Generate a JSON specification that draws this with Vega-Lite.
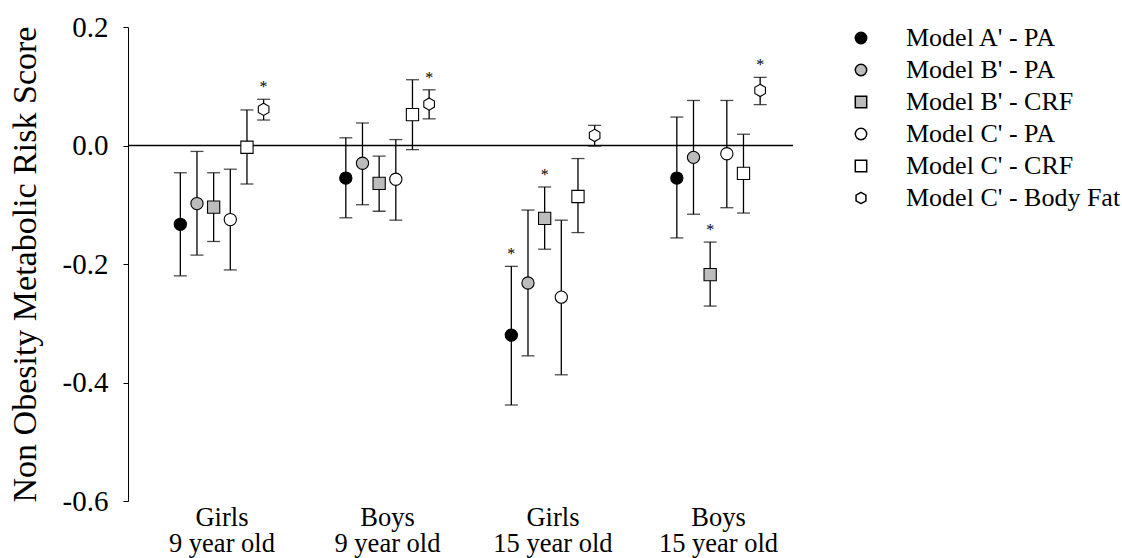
{
  "$schema": "https://vega.github.io/schema/vega-lite/v6.json",
  "width": 665,
  "height": 474,
  "autosize": "none",
  "padding": {"left": 128, "top": 27, "right": 329, "bottom": 57},
  "background": "white",
  "config": {
    "view": {"stroke": null},
    "font": "Liberation Serif",
    "axis": {"labelColor": "black", "titleColor": "black", "domainColor": "black", "tickColor": "black", "labelFont": "Liberation Serif", "titleFont": "Liberation Serif", "titleFontWeight": "normal"},
    "legend": {"labelFont": "Liberation Serif", "labelColor": "black", "labelFontWeight": "normal"}
  },
  "datasets": {
    "scores": [
      {"group": "Girls|9 year old", "model": "Model A' - PA", "value": -0.133, "lo": -0.220, "hi": -0.046, "sig": ""},
      {"group": "Girls|9 year old", "model": "Model B' - PA", "value": -0.098, "lo": -0.185, "hi": -0.010, "sig": ""},
      {"group": "Girls|9 year old", "model": "Model B' - CRF", "value": -0.104, "lo": -0.162, "hi": -0.046, "sig": ""},
      {"group": "Girls|9 year old", "model": "Model C' - PA", "value": -0.125, "lo": -0.210, "hi": -0.040, "sig": ""},
      {"group": "Girls|9 year old", "model": "Model C' - CRF", "value": -0.003, "lo": -0.065, "hi": 0.060, "sig": ""},
      {"group": "Girls|9 year old", "model": "Model C' - Body Fat", "value": 0.061, "lo": 0.043, "hi": 0.078, "sig": "*"},
      {"group": "Boys|9 year old", "model": "Model A' - PA", "value": -0.055, "lo": -0.122, "hi": 0.013, "sig": ""},
      {"group": "Boys|9 year old", "model": "Model B' - PA", "value": -0.030, "lo": -0.100, "hi": 0.038, "sig": ""},
      {"group": "Boys|9 year old", "model": "Model B' - CRF", "value": -0.064, "lo": -0.111, "hi": -0.018, "sig": ""},
      {"group": "Boys|9 year old", "model": "Model C' - PA", "value": -0.057, "lo": -0.126, "hi": 0.010, "sig": ""},
      {"group": "Boys|9 year old", "model": "Model C' - CRF", "value": 0.052, "lo": -0.007, "hi": 0.111, "sig": ""},
      {"group": "Boys|9 year old", "model": "Model C' - Body Fat", "value": 0.070, "lo": 0.045, "hi": 0.094, "sig": "*"},
      {"group": "Girls|15 year old", "model": "Model A' - PA", "value": -0.320, "lo": -0.438, "hi": -0.204, "sig": "*"},
      {"group": "Girls|15 year old", "model": "Model B' - PA", "value": -0.232, "lo": -0.355, "hi": -0.109, "sig": ""},
      {"group": "Girls|15 year old", "model": "Model B' - CRF", "value": -0.123, "lo": -0.175, "hi": -0.070, "sig": "*"},
      {"group": "Girls|15 year old", "model": "Model C' - PA", "value": -0.256, "lo": -0.387, "hi": -0.126, "sig": ""},
      {"group": "Girls|15 year old", "model": "Model C' - CRF", "value": -0.086, "lo": -0.147, "hi": -0.022, "sig": ""},
      {"group": "Girls|15 year old", "model": "Model C' - Body Fat", "value": 0.017, "lo": -0.001, "hi": 0.034, "sig": ""},
      {"group": "Boys|15 year old", "model": "Model A' - PA", "value": -0.055, "lo": -0.156, "hi": 0.048, "sig": ""},
      {"group": "Boys|15 year old", "model": "Model B' - PA", "value": -0.020, "lo": -0.116, "hi": 0.076, "sig": ""},
      {"group": "Boys|15 year old", "model": "Model B' - CRF", "value": -0.218, "lo": -0.271, "hi": -0.163, "sig": "*"},
      {"group": "Boys|15 year old", "model": "Model C' - PA", "value": -0.014, "lo": -0.105, "hi": 0.076, "sig": ""},
      {"group": "Boys|15 year old", "model": "Model C' - CRF", "value": -0.047, "lo": -0.114, "hi": 0.019, "sig": ""},
      {"group": "Boys|15 year old", "model": "Model C' - Body Fat", "value": 0.093, "lo": 0.069, "hi": 0.115, "sig": "*"}
    ]
  },
  "layer": [
    {
      "data": {"values": [{"zero": 0}]},
      "mark": {"type": "rule", "color": "black", "strokeWidth": 1.5},
      "encoding": {
        "y": {"field": "zero", "type": "quantitative", "scale": {"domain": [-0.6, 0.2], "nice": false, "zero": false}}
      }
    },
    {
      "data": {"name": "scores"},
      "encoding": {
        "x": {
          "field": "group", "type": "nominal",
          "scale": {
            "domain": ["Girls|9 year old", "Boys|9 year old", "Girls|15 year old", "Boys|15 year old"],
            "paddingInner": 0.396, "paddingOuter": 0.207, "align": 0.642, "round": false
          },
          "axis": {"title": null, "domain": false, "ticks": false, "labelAngle": 0, "labelFontSize": 26.5, "labelLineHeight": 26, "labelPadding": 3, "labelExpr": "split(datum.value, '|')"}
        },
        "xOffset": {
          "field": "model", "type": "nominal",
          "scale": {
            "domain": ["Model A' - PA", "Model B' - PA", "Model B' - CRF", "Model C' - PA", "Model C' - CRF", "Model C' - Body Fat"],
            "paddingInner": 0, "paddingOuter": 0
          }
        }
      },
      "layer": [
        {
          "mark": {"type": "rule", "color": "black", "strokeWidth": 1.3},
          "encoding": {
            "y": {
              "field": "lo", "type": "quantitative",
              "scale": {"domain": [-0.6, 0.2], "nice": false, "zero": false},
              "axis": {
                "title": "Non Obesity Metabolic Risk Score", "titleFontSize": 34, "titlePadding": 20,
                "values": [-0.6, -0.4, -0.2, 0, 0.2], "grid": false, "tickSize": 5,
                "labelFontSize": 29, "labelPadding": 15,
                "labelExpr": "(datum.value < 0 ? '-' : '') + format(abs(datum.value), '.1f')"
              }
            },
            "y2": {"field": "hi"}
          }
        },
        {
          "mark": {"type": "tick", "color": "black", "thickness": 1.3, "size": 13, "orient": "horizontal"},
          "encoding": {"y": {"field": "lo", "type": "quantitative"}}
        },
        {
          "mark": {"type": "tick", "color": "black", "thickness": 1.3, "size": 13, "orient": "horizontal"},
          "encoding": {"y": {"field": "hi", "type": "quantitative"}}
        },
        {
          "mark": {"type": "point", "filled": true, "stroke": "black", "strokeWidth": 1.1, "size": 150, "opacity": 1},
          "encoding": {
            "y": {"field": "value", "type": "quantitative"},
            "shape": {
              "field": "model", "type": "nominal",
              "scale": {
                "domain": ["Model A' - PA", "Model B' - PA", "Model B' - CRF", "Model C' - PA", "Model C' - CRF", "Model C' - Body Fat"],
                "range": ["circle", "circle", "square", "circle", "square", "M0,-1L0.866,-0.5L0.866,0.5L0,1L-0.866,0.5L-0.866,-0.5Z"]
              },
              "legend": {
                "title": null, "orient": "none", "legendX": 720, "legendY": -2,
                "labelFontSize": 26, "labelOffset": 32, "labelLimit": 320, "rowPadding": 6,
                "symbolSize": 130, "symbolOpacity": 1,
                "encode": {"symbols": {"stroke": {"value": "black"}, "strokeWidth": {"value": 1.1}}}
              }
            },
            "fill": {
              "field": "model", "type": "nominal",
              "scale": {
                "domain": ["Model A' - PA", "Model B' - PA", "Model B' - CRF", "Model C' - PA", "Model C' - CRF", "Model C' - Body Fat"],
                "range": ["#000000", "#bcbcbc", "#bcbcbc", "#ffffff", "#ffffff", "#ffffff"]
              },
              "legend": {
                "title": null, "orient": "none", "legendX": 720, "legendY": -2,
                "labelFontSize": 26, "labelOffset": 32, "labelLimit": 320, "rowPadding": 6,
                "symbolSize": 130, "symbolOpacity": 1,
                "encode": {"symbols": {"stroke": {"value": "black"}, "strokeWidth": {"value": 1.1}}}
              }
            }
          }
        },
        {
          "mark": {"type": "text", "fontSize": 16, "dy": -12, "baseline": "middle", "color": "black"},
          "encoding": {
            "y": {"field": "hi", "type": "quantitative"},
            "text": {"field": "sig"}
          }
        }
      ]
    }
  ]
}
